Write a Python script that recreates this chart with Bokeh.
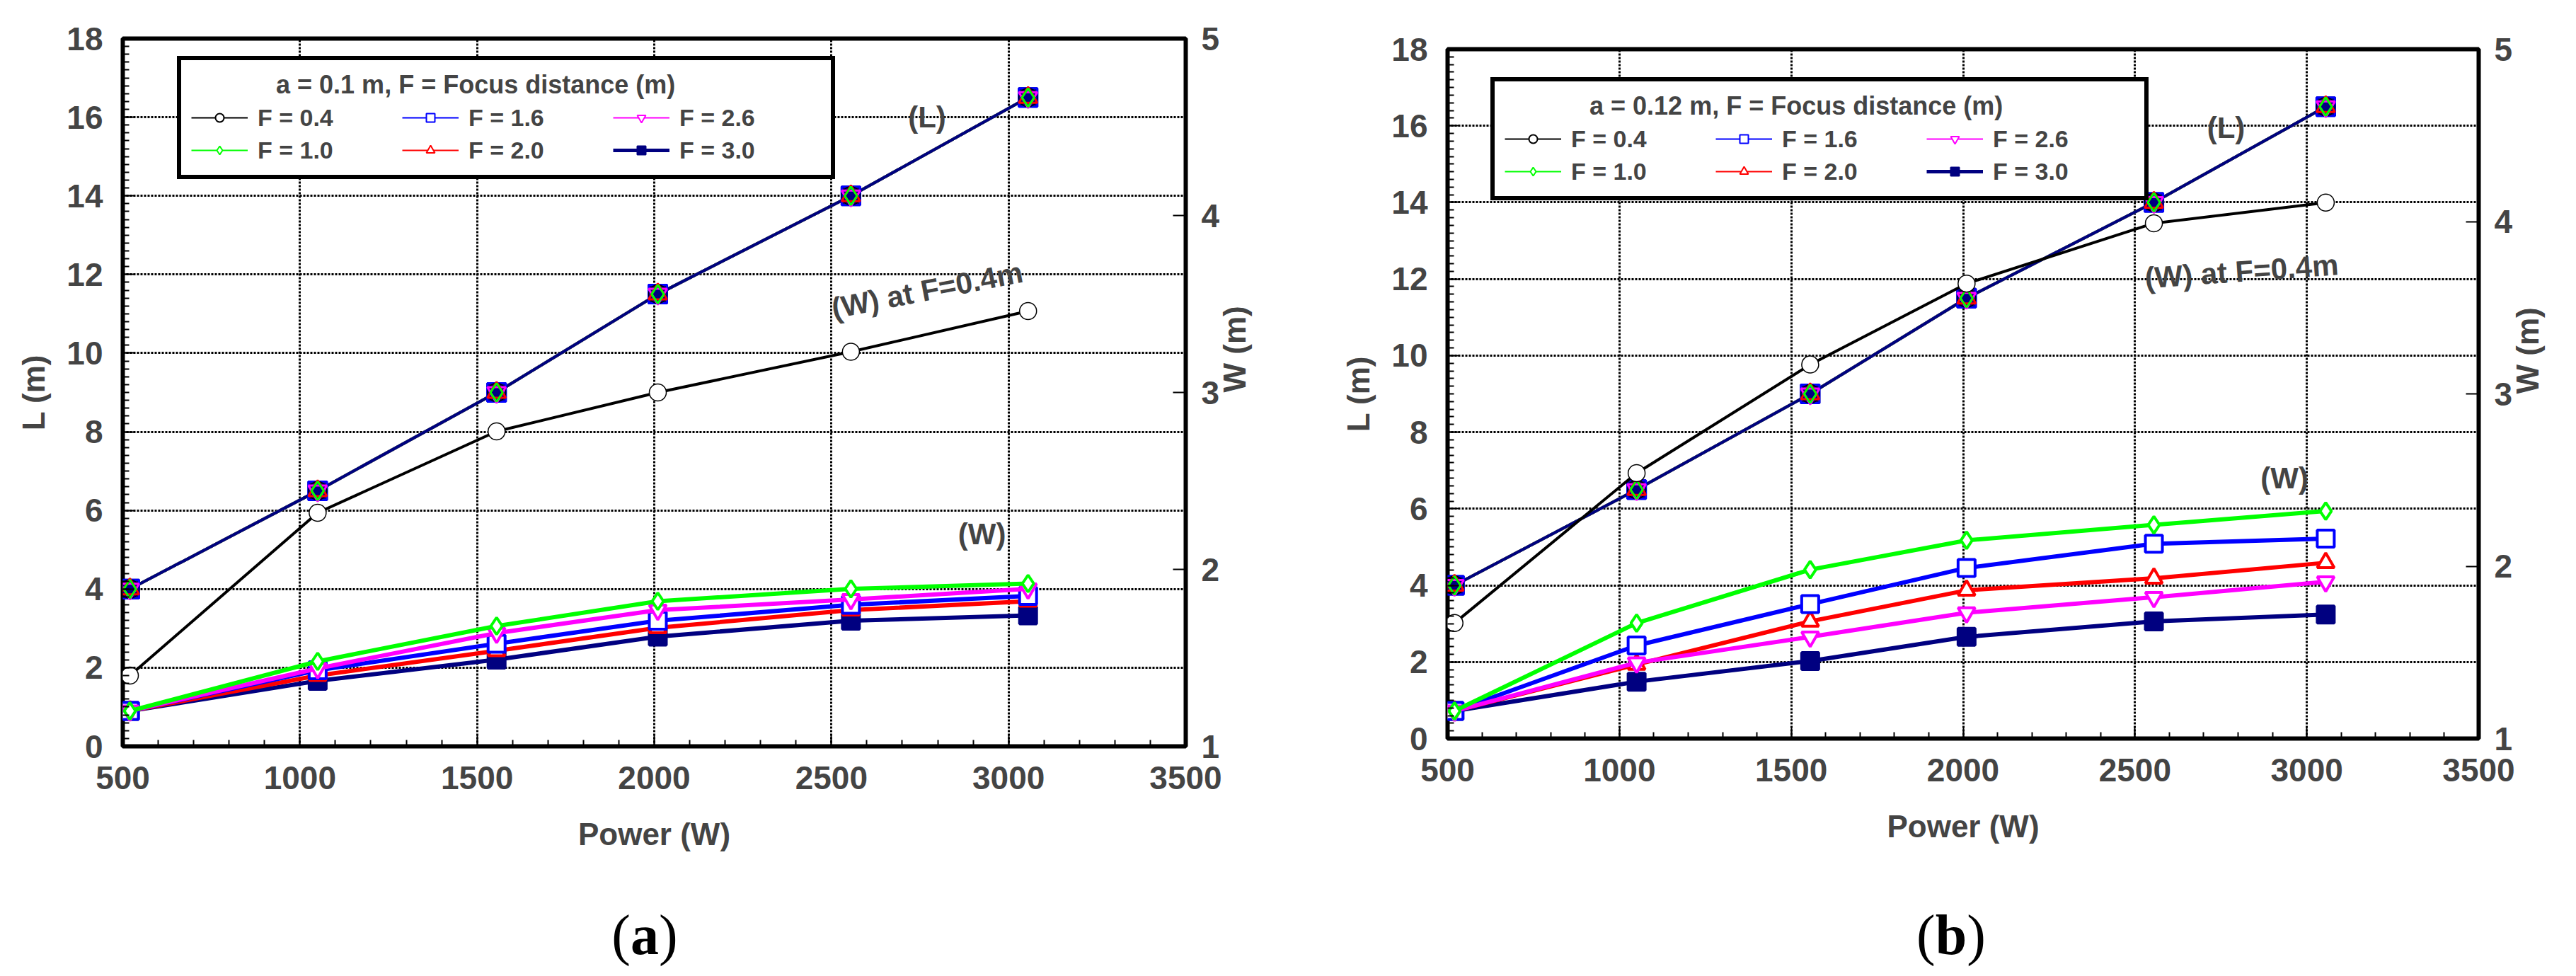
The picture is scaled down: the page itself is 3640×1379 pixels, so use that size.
from math import pi, radians
from bokeh.plotting import figure
from bokeh.layouts import row, column
from bokeh.models import (Range1d, LinearAxis, Legend, LegendItem, Label,
                          SingleIntervalTicker, Div)
from bokeh.embed import file_html
from bokeh.resources import INLINE

# power (W) at which the runs were made
power = [520, 1050, 1555, 2010, 2555, 3055]
focus = ["0.4", "1.0", "1.6", "2.0", "2.6", "3.0"]

# (a) a = 0.1 m : length L (m), same for every focus distance
la = [4.0, 6.5, 9.0, 11.5, 14.0, 16.5]
# width W (m) per focus distance
wa_04 = [1.40, 2.32, 2.78, 3.00, 3.23, 3.46]
wa_10 = [1.20, 1.48, 1.68, 1.82, 1.89, 1.92]
wa_16 = [1.20, 1.43, 1.58, 1.71, 1.80, 1.85]
wa_20 = [1.20, 1.40, 1.54, 1.67, 1.77, 1.82]
wa_26 = [1.20, 1.44, 1.64, 1.77, 1.83, 1.89]
wa_30 = [1.20, 1.37, 1.49, 1.62, 1.71, 1.74]

# (b) a = 0.12 m
lb = [4.0, 6.5, 9.0, 11.5, 14.0, 16.5]
wb_04 = [1.67, 2.54, 3.17, 3.64, 3.99, 4.11]
wb_10 = [1.16, 1.67, 1.98, 2.15, 2.24, 2.32]
wb_16 = [1.16, 1.54, 1.78, 1.99, 2.13, 2.16]
wb_20 = [1.16, 1.43, 1.68, 1.86, 1.93, 2.02]
wb_26 = [1.16, 1.44, 1.59, 1.73, 1.82, 1.91]
wb_30 = [1.16, 1.33, 1.45, 1.59, 1.68, 1.72]

FONT = "Liberation Sans"
SERIF = "Liberation Serif"
NAN = float("nan")
PAD = "\u00a0" * 12   # pushes the legend heading towards the middle of the box

style = {
    "0.4": dict(color="black", marker="circle", fill=None),
    "1.0": dict(color="#00ff00", marker="diamond", fill=None),
    "1.6": dict(color="#0000ff", marker="square", fill=None),
    "2.0": dict(color="#ff0000", marker="triangle", fill=None),
    "2.6": dict(color="#ff00ff", marker="inverted_triangle", fill=None),
    "3.0": dict(color="#000080", marker="square", fill="#000080"),
}

W, H = 1812, 1270     # figure size; caption row below takes the rest
CAP_H = 93
LEG_H = 172


def txt(p, s, x, y, size="42px", angle=0.0):
    p.add_layout(Label(x=x, y=y, text=s, text_font=FONT, text_font_size=size,
                       text_font_style="bold", text_align="center",
                       text_baseline="middle", angle=angle))


def make_panel(title, L, ws, borders, leg_off, notes):
    left, right, top, bottom = borders
    p = figure(width=W, height=H, output_backend="svg",
               toolbar_location=None, x_range=Range1d(500, 3500),
               y_range=Range1d(0, 18),
               min_border_left=left, min_border_right=right,
               min_border_top=top, min_border_bottom=bottom)
    p.extra_y_ranges = {"w": Range1d(1, 5)}
    p.outline_line_color = "black"
    p.outline_line_width = 6
    p.outline_line_alpha = 1.0
    p.background_fill_color = "white"
    p.border_fill_color = "white"

    p.xaxis.ticker = SingleIntervalTicker(interval=500, num_minor_ticks=5)
    p.yaxis.ticker = SingleIntervalTicker(interval=2, num_minor_ticks=10)
    p.xaxis.axis_label = "Power (W)"
    p.yaxis.axis_label = "L (m)"
    p.xaxis.axis_label_standoff = 36
    p.yaxis.axis_label_standoff = 19
    for ax in (p.xaxis[0], p.yaxis[0]):
        ax.axis_line_color = None
        ax.major_tick_in = 16
        ax.major_tick_out = 0
        ax.minor_tick_in = 9
        ax.minor_tick_out = 0
        ax.major_tick_line_width = 2
        ax.minor_tick_line_width = 2
        ax.major_label_text_font = FONT
        ax.major_label_text_font_style = "bold"
        ax.major_label_text_font_size = "46px"
        ax.major_label_standoff = 28
        ax.axis_label_text_font = FONT
        ax.axis_label_text_font_style = "bold"
        ax.axis_label_text_font_size = "44px"

    wax = LinearAxis(y_range_name="w", axis_label="W (m)",
                     ticker=SingleIntervalTicker(interval=1, num_minor_ticks=0))
    wax.axis_line_color = None
    wax.major_tick_in = 18
    wax.major_tick_out = 0
    wax.major_tick_line_width = 2
    wax.major_label_text_font = FONT
    wax.major_label_text_font_style = "bold"
    wax.major_label_text_font_size = "46px"
    wax.major_label_standoff = 22
    wax.axis_label_standoff = 18
    wax.axis_label_orientation = pi / 2
    wax.axis_label_text_font = FONT
    wax.axis_label_text_font_style = "bold"
    wax.axis_label_text_font_size = "44px"
    p.add_layout(wax, "right")

    for g in (p.xgrid[0], p.ygrid[0]):
        g.grid_line_color = "black"
        g.grid_line_width = 3
        g.grid_line_dash = "3 2"

    # length curves: all focus distances give the same L
    for f in ["0.4", "1.6", "2.0", "2.6", "1.0", "3.0"]:
        p.line(power, L, line_color=style[f]["color"], line_width=4)
    for f in ["3.0", "1.6", "0.4", "2.6", "2.0", "1.0"]:
        s = style[f]
        p.scatter(power, L, marker=s["marker"], size=26, line_color=s["color"],
                  fill_color=s["fill"], line_width=1.5 if f == "0.4" else 3)

    # width curves on the right axis
    for f in ["0.4", "3.0", "2.0", "1.6", "2.6", "1.0"]:
        s = style[f]
        lw = 4 if f == "0.4" else 6
        p.line(power, ws[f], line_color=s["color"], line_width=lw, y_range_name="w")
        p.scatter(power, ws[f], marker=s["marker"], size=24, line_color=s["color"],
                  fill_color=s["fill"] if s["fill"] else "white",
                  line_width=1.5 if f == "0.4" else 4, y_range_name="w")

    # legend drawn with thin sample glyphs (renderers hold no visible point)
    items = []
    for f in focus:
        s = style[f]
        lr = p.line([NAN], [NAN], line_color=s["color"],
                    line_width=5 if f == "3.0" else 2)
        sr = p.scatter([NAN], [NAN], marker=s["marker"], size=22,
                       line_color=s["color"],
                       fill_color=s["fill"] if s["fill"] else "white",
                       line_width=2)
        items.append(LegendItem(label="F = " + f, renderers=[lr, sr]))
    leg = Legend(items=items, location=leg_off, orientation="vertical", nrows=2,
                 title=PAD + title, title_text_font=FONT,
                 title_text_font_style="bold",
                 title_text_font_size="36px", title_standoff=4,
                 label_text_font=FONT, label_text_font_style="bold",
                 label_text_font_size="34px", border_line_color="black",
                 border_line_alpha=1.0, border_line_width=6,
                 background_fill_color="white", background_fill_alpha=1.0,
                 padding=14, spacing=4, glyph_width=80, glyph_height=30,
                 label_height=42, label_width=200, label_standoff=14, margin=0)
    p.add_layout(leg, "center")

    for s, x, y, ang in notes:
        txt(p, s, x, y, angle=radians(ang))
    return p


def caption(letter, shift):
    return Div(text="(<b>" + letter + "</b>)", width=W, height=CAP_H,
               styles={"font-family": SERIF, "font-size": "80px",
                       "line-height": str(CAP_H) + "px", "text-align": "center",
                       "width": str(W) + "px", "padding-left": str(shift) + "px",
                       "box-sizing": "border-box", "color": "black"})


# frame a: x 181..1683, y 62..1062 ; frame b: x 2043..3500, y 77..1051
ba = (173, 137, 54, 216)
bb = (223, 132, 69, 227)
fha = H - ba[2] - ba[3]
fhb = H - bb[2] - bb[3]

pa = make_panel("a = 0.1 m, F = Focus distance (m)", la,
                {"0.4": wa_04, "1.0": wa_10, "1.6": wa_16, "2.0": wa_20,
                 "2.6": wa_26, "3.0": wa_30},
                ba, (77, fha - 27 - LEG_H),
                [("(L)", 2770, 16.0, 0), ("(W) at F=0.4m", 2770, 11.6, 11),
                 ("(W)", 2925, 5.4, 0)])
pb = make_panel("a = 0.12 m, F = Focus distance (m)", lb,
                {"0.4": wb_04, "1.0": wb_10, "1.6": wb_16, "2.0": wb_20,
                 "2.6": wb_26, "3.0": wb_30},
                bb, (61, fhb - 42 - LEG_H),
                [("(L)", 2765, 15.95, 0), ("(W) at F=0.4m", 2810, 12.2, 4),
                 ("(W)", 2935, 6.8, 0)])

layout = row(column(pa, caption("a", 0), spacing=0),
             column(pb, caption("b", 48), spacing=0), spacing=0)
open("out.html", "w").write(file_html(layout, INLINE))
